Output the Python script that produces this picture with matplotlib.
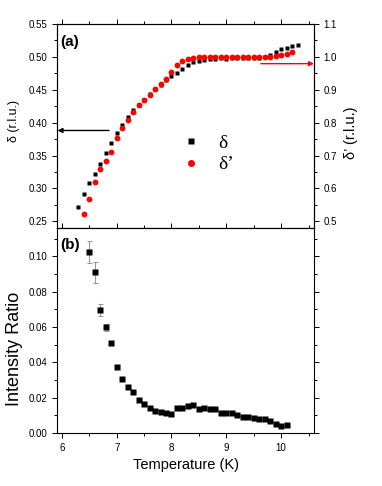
import matplotlib
matplotlib.use("Agg")
import matplotlib.pyplot as plt
from matplotlib.ticker import MultipleLocator, FormatStrFormatter

plt.rcParams['font.family'] = ['Liberation Sans', 'DejaVu Sans']

# ---- data ----
T_delta = [6.3, 6.4, 6.5, 6.6, 6.7, 6.8, 6.9, 7.0, 7.1, 7.2, 7.3, 7.4, 7.5, 7.6, 7.7,
           7.8, 7.9, 8.0, 8.1, 8.2, 8.3, 8.4, 8.5, 8.6, 8.7, 8.8, 8.9, 9.0, 9.1, 9.2,
           9.3, 9.4, 9.5, 9.6, 9.7, 9.8, 9.9, 10.0, 10.1, 10.2, 10.3]
delta = [0.272, 0.292, 0.308, 0.322, 0.337, 0.354, 0.369, 0.384, 0.397, 0.408, 0.419,
         0.427, 0.435, 0.443, 0.451, 0.457, 0.464, 0.470, 0.475, 0.481, 0.487, 0.492,
         0.494, 0.495, 0.496, 0.497, 0.498, 0.497, 0.498, 0.498, 0.498, 0.498, 0.498,
         0.498, 0.499, 0.503, 0.507, 0.511, 0.513, 0.516, 0.518]

T_deltap = [6.4, 6.5, 6.6, 6.7, 6.8, 6.9, 7.0, 7.1, 7.2, 7.3, 7.4, 7.5, 7.6, 7.7, 7.8,
            7.9, 8.0, 8.1, 8.2, 8.3, 8.4, 8.5, 8.6, 8.7, 8.8, 8.9, 9.0, 9.1, 9.2, 9.3,
            9.4, 9.5, 9.6, 9.7, 9.8, 9.9, 10.0, 10.1, 10.2]
deltap = [0.523, 0.567, 0.619, 0.658, 0.684, 0.710, 0.754, 0.784, 0.808, 0.832, 0.853,
          0.868, 0.884, 0.902, 0.916, 0.931, 0.953, 0.975, 0.987, 0.994, 0.997, 0.998,
          0.998, 0.998, 0.998, 0.998, 0.998, 0.998, 0.998, 0.998, 0.998, 0.999, 0.998,
          0.998, 0.999, 1.001, 1.004, 1.008, 1.014]

T_ratio = [6.5, 6.6, 6.7, 6.8, 6.9, 7.0, 7.1, 7.2, 7.3, 7.4, 7.5, 7.6, 7.7, 7.8, 7.9,
           8.0, 8.1, 8.2, 8.3, 8.4, 8.5, 8.6, 8.7, 8.8, 8.9, 9.0, 9.1, 9.2, 9.3, 9.4,
           9.5, 9.6, 9.7, 9.8, 9.9, 10.0, 10.1]
ratio = [0.1024, 0.0908, 0.0695, 0.0597, 0.0508, 0.0372, 0.0304, 0.0259, 0.0233, 0.0188,
         0.0162, 0.0141, 0.0126, 0.0120, 0.0113, 0.0107, 0.0143, 0.0139, 0.0154, 0.0158,
         0.0137, 0.0143, 0.0137, 0.0135, 0.0111, 0.0113, 0.0113, 0.0101, 0.0088, 0.0092,
         0.0086, 0.0081, 0.0081, 0.0066, 0.0049, 0.0041, 0.0047]
ratio_err = [0.0063, 0.0060, 0.0032, 0.0021, 0.0010, 0.0008, 0.0006, 0.0006, 0.0005, 0.0005,
             0.0005, 0.0005, 0.0005, 0.0005, 0.0005, 0.0005, 0.0005, 0.0005, 0.0005, 0.0005,
             0.0005, 0.0005, 0.0005, 0.0005, 0.0005, 0.0005, 0.0005, 0.0005, 0.0005, 0.0005,
             0.0005, 0.0005, 0.0005, 0.0005, 0.0005, 0.0005, 0.0005]

x_ticks = [6, 7, 8, 9, 10]

# ---- figure ----
fig = plt.figure(figsize=(3.82, 4.86), dpi=100)
L, W = 0.1505, 0.6715
axa = fig.add_axes([L, 0.531, W, 0.420])
axb = fig.add_axes([L, 0.109, W, 0.422], sharex=axa)
axa2 = axa.twinx()

def style(ax):
    ax.tick_params(which='both', direction='out', labelsize=7, width=0.7, colors='black')
    ax.tick_params(which='major', length=3.5)
    ax.tick_params(which='minor', length=2)
    for s in ax.spines.values():
        s.set_linewidth(0.8)

# panel (a)
axa.plot(T_delta, delta, 's', color='black', ms=3.4, mec='none', label='δ')
axa2.plot(T_deltap, deltap, 'o', color='red', ms=4.2, mec='none', label='δ’')
axa.set_xlim(5.92, 10.6)
axa.set_ylim(0.24, 0.55)
axa2.set_ylim(0.48, 1.1)
axa.yaxis.set_major_locator(MultipleLocator(0.05))
axa.yaxis.set_minor_locator(MultipleLocator(0.025))
axa2.yaxis.set_major_locator(MultipleLocator(0.1))
axa2.yaxis.set_minor_locator(MultipleLocator(0.05))
axa.yaxis.set_major_formatter(FormatStrFormatter('%.2f'))
axa2.yaxis.set_major_formatter(FormatStrFormatter('%.1f'))
axa.set_xticks(x_ticks)
axa.xaxis.set_minor_locator(MultipleLocator(0.5))
axa.tick_params(axis='x', which='both', top=True, labelbottom=False)
style(axa); style(axa2)
axa.set_ylabel('δ (r.l.u.)', fontsize=9)
axa.yaxis.set_label_coords(-0.145, 0.525)
axa2.set_ylabel('δ’ (r.l.u.)', fontsize=10.5, labelpad=4)
axa2.yaxis.set_label_coords(1.115, 0.466)
axa.text(0.01, 0.91, '(a)', transform=axa.transAxes, fontsize=11, fontweight='bold',
         va='center', ha='left')

axa.annotate('', xy=(0, 0.388), xycoords=('axes fraction', 'data'),
             xytext=(6.86, 0.388), textcoords='data',
             arrowprops=dict(arrowstyle='-|>', color='black', lw=1.0,
                             mutation_scale=7, shrinkA=0, shrinkB=0))
axa2.annotate('', xy=(1, 0.979), xycoords=('axes fraction', 'data'),
              xytext=(9.63, 0.979), textcoords='data',
              arrowprops=dict(arrowstyle='-|>', color='red', lw=1.0,
                              mutation_scale=7, shrinkA=0, shrinkB=0))

h1, l1 = axa.get_legend_handles_labels()
h2, l2 = axa2.get_legend_handles_labels()
axa2.legend(h1 + h2, l1 + l2, loc='center left', bbox_to_anchor=(0.481, 0.363),
            frameon=False, prop={'family': 'Liberation Serif', 'size': 14},
            handlelength=1.0, handletextpad=0.9, borderpad=0, borderaxespad=0,
            labelspacing=0.2, markerscale=1.2)

# panel (b)
axb.errorbar(T_ratio, ratio, yerr=ratio_err, fmt='s', color='black', ms=3.8, mec='none',
             ecolor='#999999', elinewidth=0.8, capsize=1.8, capthick=0.8)
axb.set_ylim(0, 0.116)
axb.yaxis.set_major_locator(MultipleLocator(0.02))
axb.yaxis.set_minor_locator(MultipleLocator(0.01))
axb.yaxis.set_major_formatter(FormatStrFormatter('%.2f'))
axb.set_xticks(x_ticks)
axb.xaxis.set_minor_locator(MultipleLocator(0.5))
axb.tick_params(axis='both', which='both', top=True, right=True)
style(axb)
axb.set_xlabel('Temperature (K)', fontsize=10.5, labelpad=4)
axb.set_ylabel('Intensity Ratio', fontsize=13)
axb.yaxis.set_label_coords(-0.133, 0.41)
axb.text(0.01, 0.917, '(b)', transform=axb.transAxes, fontsize=11, fontweight='bold',
         va='center', ha='left')

fig.savefig('out.png', dpi=100)
